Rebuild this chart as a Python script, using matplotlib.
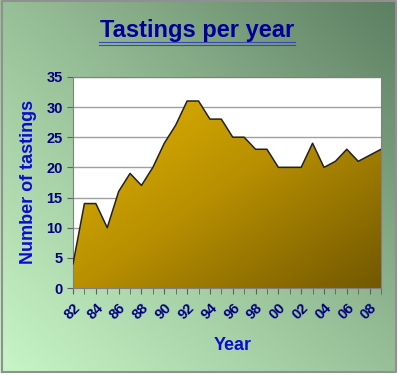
import numpy as np
import matplotlib
matplotlib.use('Agg')
import matplotlib.pyplot as plt
from matplotlib.colors import LinearSegmentedColormap
from matplotlib.patches import Polygon
from matplotlib.lines import Line2D

years = list(range(1982, 2010))
tastings = [4, 14, 14, 10, 16, 19, 17, 20, 24, 27, 31, 31, 28, 28,
            25, 25, 23, 23, 20, 20, 20, 24, 20, 21, 23, 21, 22, 23]
tick_years = years[::2]
tick_labels = [f'{y % 100:02d}' for y in tick_years]

plt.rcParams['font.family'] = ['Liberation Sans', 'DejaVu Sans']

fig = plt.figure(figsize=(3.99, 3.75), dpi=100)

# green diagonal background
bg = fig.add_axes([0, 0, 1, 1])
gx, gy = np.meshgrid(np.linspace(0, 1, 200), np.linspace(0, 1, 200))
g = (gx + gy) / 2
bg_cmap = LinearSegmentedColormap.from_list('bg', ['#c8f6c8', '#98c098', '#5c7e62'])
bg.imshow(g, cmap=bg_cmap, origin='lower', extent=[0, 1, 0, 1], aspect='auto')
bg.plot([0.005, 0.992, 0.992, 0.005, 0.005], [0.007, 0.007, 0.997, 0.997, 0.007],
        color='#909090', lw=1.5)
bg.fill_between([0.993, 1.0], 0, 1, color='white')
bg.fill_between([0, 1], 0, 0.006, color='white')
bg.set_xlim(0, 1)
bg.set_ylim(0, 1)
bg.axis('off')

ax = fig.add_axes([0.183, 0.232, 0.772, 0.563])
ax.set_facecolor('white')
ax.set_xlim(years[0], years[-1])
ax.set_ylim(0, 35)

# gold gradient clipped to the area
ax_cmap = LinearSegmentedColormap.from_list('gold', ['#e6b800', '#b89000', '#725800'])
ax_g = (gx + (1 - gy)) / 2
img = ax.imshow(ax_g, cmap=ax_cmap, origin='lower', aspect='auto',
                extent=[years[0], years[-1], 0, 35], zorder=2)
verts = [(years[0], 0)] + list(zip(years, tastings)) + [(years[-1], 0)]
poly = Polygon(verts, closed=True, facecolor='none', edgecolor='none')
ax.add_patch(poly)
img.set_clip_path(poly)
ax.plot(years, tastings, color='#222222', lw=1.1, zorder=3)

ax.set_yticks(range(0, 36, 5))
ax.set_xticks(years, minor=True)
ax.set_xticks(tick_years)
ax.set_xticklabels(tick_labels, rotation=45, ha='right', va='top',
                   rotation_mode='anchor')
ax.grid(axis='y', color='#a0a0a0', lw=1, zorder=1)
for s in ax.spines.values():
    s.set_color('#808080')
ax.tick_params(axis='both', which='both', colors='#606060', length=4,
               labelcolor='#000080', labelsize=10.5)
for lab in ax.get_xticklabels() + ax.get_yticklabels():
    lab.set_fontweight('bold')
ax.tick_params(axis='x', pad=5)

fig.text(0.582, 0.08, 'Year', ha='center', va='center',
         fontsize=13, fontweight='bold', color='#0c0cd0')
ax.set_ylabel('Number of tastings', fontsize=13, fontweight='bold', color='#0c0cd0',
              labelpad=7)

fig.text(0.494, 0.92, 'Tastings per year', ha='center', va='center',
         fontsize=17, fontweight='bold', color='#000099')
fig.add_artist(Line2D([0.249, 0.74], [0.889, 0.889], color='#3848b8', lw=0.8))
fig.add_artist(Line2D([0.249, 0.74], [0.881, 0.881], color='#3848b8', lw=0.8))

fig.savefig('out.png', dpi=100)
